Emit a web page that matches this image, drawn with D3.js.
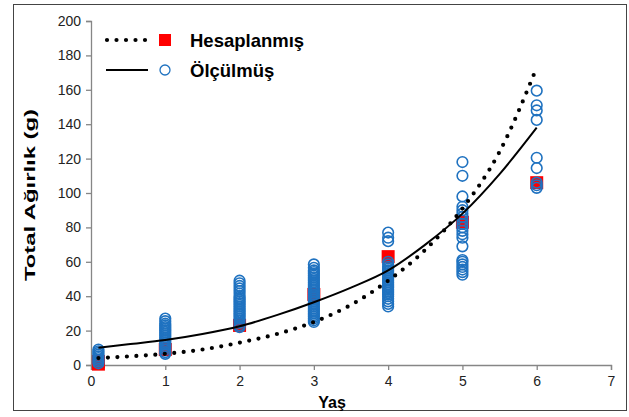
<!DOCTYPE html>
<html>
<head>
<meta charset="utf-8">
<script src="https://cdn.jsdelivr.net/npm/d3@7"></script>
<style>
  body { margin: 0; background: #fff; }
  text { font-family: "Liberation Sans", Arial, sans-serif; }
</style>
</head>
<body>
<script>
// measured weights (Ölçülmüş), one array per age
const olcAges = [0.1, 1, 2, 3, 4, 5, 6]
const olc01 = [1, 2, 3, 4, 5, 6, 7, 8, 9]
const olc1 = [6.5, 7.5, 9, 10, 11, 12, 13, 14, 15, 16, 17, 18, 19, 20, 21, 22, 23, 24, 25.5, 27]
const olc2 = [22, 23, 24.5, 26, 27, 28, 29, 30, 31, 32, 33, 34, 35, 36, 37, 38, 39, 40, 41.5, 43, 44.5, 46, 47.5, 49]
const olc3 = [25, 26, 27, 28, 29, 30, 31, 32, 33, 34, 35, 36, 37, 38, 39, 40, 41, 42, 43, 44, 45, 46, 47, 48, 49, 50, 51, 52, 53, 54, 55, 56.5, 58.5]
const olc4 = [34, 35.5, 37, 38.5, 40, 41, 42, 43, 44, 45, 46, 47, 48, 49, 50, 51, 52, 53, 54, 55, 56, 57, 58.5, 60, 72, 74, 77]
const olc5 = [52.5, 54, 55.5, 57, 58.5, 60, 61, 69, 74, 76, 78, 80, 82, 84, 86, 88, 90, 92, 98, 110, 118]
const olc6 = [103, 104.5, 106, 114.5, 120.5, 142.5, 148, 151, 159.5]
const olcValues = [olc01, olc1, olc2, olc3, olc4, olc5, olc6]

// calculated weights (Hesaplanmış)
const hesapAges = [0.1, 0.1, 1, 2, 3, 4, 5, 6]
const hesapValues = [0.5, 2, 9, 23, 41, 63, 83, 106]

// fitted curves
const curveAges = [0.1, 0.5, 1, 1.5, 2, 2.5, 3, 3.5, 4, 4.5, 5, 5.5, 6]
const hesapCurve = [4, 5, 6.5, 9, 13, 18, 25, 35, 49, 67, 91, 124, 173]
const olcCurve = [10, 12, 14.5, 18, 22.5, 29, 36.5, 45, 55, 70, 88, 111, 138]

const xTicks = [0, 1, 2, 3, 4, 5, 6, 7]
const yTicks = [0, 20, 40, 60, 80, 100, 120, 140, 160, 180, 200]

const W = 629, H = 417
const svg = d3.select("body").append("svg")
    .attr("width", W)
    .attr("height", H)

svg.append("rect")
    .attr("x", 13.5).attr("y", 4.5)
    .attr("width", 613).attr("height", 406)
    .attr("fill", "#fff")
    .attr("stroke", "#444")

const x = d3.scaleLinear().domain([0, 7]).range([91, 611])
const y = d3.scaleLinear().domain([0, 200]).range([365, 21])

const blue = "#1f72c0"
const axisGray = "#868686"

// axes
const xAxis = svg.append("g")
    .attr("transform", `translate(0,${y(0)})`)
    .call(d3.axisBottom(x).tickValues(xTicks).tickFormat(d3.format("d")).tickSize(5).tickPadding(6))
const yAxis = svg.append("g")
    .attr("transform", `translate(${x(0)},0)`)
    .call(d3.axisLeft(y).tickValues(yTicks).tickSize(5).tickPadding(5))
;[xAxis, yAxis].forEach(g => {
    g.selectAll("path, line").attr("stroke", axisGray).attr("stroke-width", 1.3)
    g.selectAll("text").attr("fill", "#222").style("font-size", "14px")
        .style("font-family", "'Liberation Sans', Arial, sans-serif")
})

// red squares below
const sq = 13
svg.append("g").selectAll("rect")
    .data(hesapAges.map((a, i) => [a, hesapValues[i]]))
    .enter().append("rect")
    .attr("x", d => x(d[0]) - sq / 2)
    .attr("y", d => y(d[1]) - sq / 2)
    .attr("width", sq).attr("height", sq)
    .attr("fill", "#ff0000")

// measured circles
const pts = []
olcAges.forEach((a, i) => olcValues[i].forEach(v => pts.push([a, v])))
svg.append("g").selectAll("circle")
    .data(pts)
    .enter().append("circle")
    .attr("cx", d => x(d[0]))
    .attr("cy", d => y(d[1]))
    .attr("r", 5.3)
    .attr("fill", "none")
    .attr("stroke", blue)
    .attr("stroke-width", 1.6)

// curves
const line = d3.line()
    .x((d, i) => x(curveAges[i]))
    .y(d => y(d))
    .curve(d3.curveMonotoneX)

svg.append("path")
    .datum(olcCurve)
    .attr("d", line)
    .attr("fill", "none")
    .attr("stroke", "#000")
    .attr("stroke-width", 2)

svg.append("path")
    .datum(hesapCurve)
    .attr("d", line)
    .attr("fill", "none")
    .attr("stroke", "#000")
    .attr("stroke-width", 4.2)
    .attr("stroke-linecap", "round")
    .attr("stroke-dasharray", "0,9.5")

// titles
svg.append("text")
    .attr("x", 332).attr("y", 408)
    .attr("text-anchor", "middle")
    .style("font-size", "16px").style("font-weight", "bold")
    .text("Yaş")
svg.append("text")
    .attr("transform", "translate(35,195) rotate(-90)")
    .attr("text-anchor", "middle")
    .attr("textLength", 172)
    .attr("lengthAdjust", "spacingAndGlyphs")
    .style("font-size", "15px").style("font-weight", "bold")
    .text("Total Ağırlık  (g)")

// legend
const lg = svg.append("g")
lg.append("line")
    .attr("x1", 107).attr("x2", 147).attr("y1", 40).attr("y2", 40)
    .attr("stroke", "#000").attr("stroke-width", 4.2)
    .attr("stroke-linecap", "round").attr("stroke-dasharray", "0,9.5")
lg.append("rect")
    .attr("x", 159).attr("y", 34).attr("width", 12).attr("height", 12)
    .attr("fill", "#ff0000")
lg.append("text")
    .attr("x", 190).attr("y", 47)
    .style("font-size", "18.5px").style("font-weight", "bold")
    .text("Hesaplanmış")
lg.append("line")
    .attr("x1", 106).attr("x2", 148).attr("y1", 70).attr("y2", 70)
    .attr("stroke", "#000").attr("stroke-width", 2)
lg.append("circle")
    .attr("cx", 165).attr("cy", 70).attr("r", 5)
    .attr("fill", "none").attr("stroke", blue).attr("stroke-width", 1.3)
lg.append("text")
    .attr("x", 190).attr("y", 77)
    .style("font-size", "18.5px").style("font-weight", "bold")
    .text("Ölçülmüş")
</script>
</body>
</html>
